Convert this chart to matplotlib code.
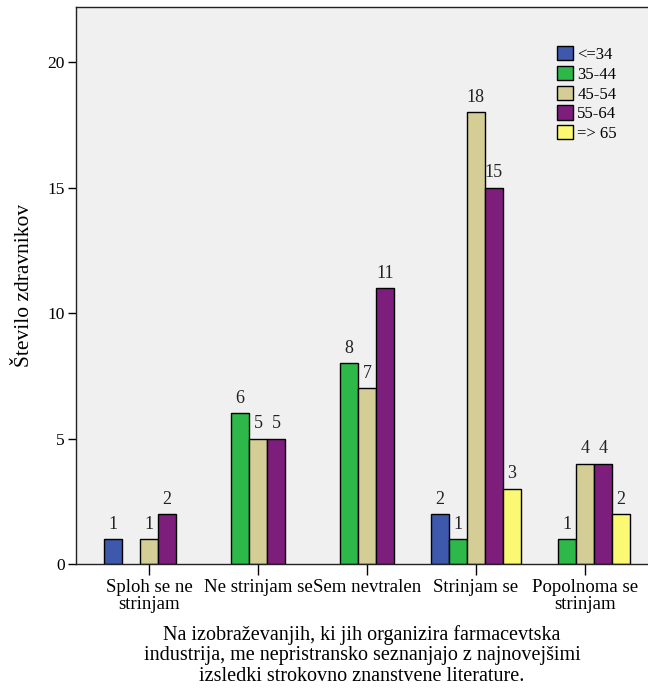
import numpy as np
import matplotlib.pyplot as plt
from matplotlib.patches import Patch

# kategorije odgovorov in starostne skupine
categories = ["Sploh se ne\nstrinjam", "Ne strinjam se", "Sem nevtralen",
              "Strinjam se", "Popolnoma se\nstrinjam"]
age_groups = ["<=34", "35-44", "45-54", "55-64", "=> 65"]

# število zdravnikov po skupinah (0 = ni stolpca)
counts_34 = [1, 0, 0, 2, 0]
counts_44 = [0, 6, 8, 1, 1]
counts_54 = [1, 5, 7, 18, 4]
counts_64 = [2, 5, 11, 15, 4]
counts_65 = [0, 0, 0, 3, 2]

colors = ["#3E58AC", "#2EB84A", "#D4CE96", "#7E1E7C", "#FBF873"]

plt.rcParams["font.family"] = ["Liberation Serif", "DejaVu Serif"]

fig = plt.figure(figsize=(6.48, 6.89), dpi=100)
ax = fig.add_axes([0.1173, 0.1814, 0.8827, 0.8084])
ax.set_facecolor("#F0F0F0")

series = [counts_34, counts_44, counts_54, counts_64, counts_65]
x = np.arange(len(categories))
width = 0.165

for i, (vals, col) in enumerate(zip(series, colors)):
    offs = (i - 2) * width
    for xi, v in zip(x, vals):
        if v == 0:
            continue
        ax.bar(xi + offs, v, width, color=col, edgecolor="black", linewidth=1.0)
        ax.text(xi + offs, v + 0.25, str(v), ha="center", va="bottom",
                fontsize=13, color="#222222")

ax.set_xlim(-0.67, 4.58)
ax.set_ylim(0, 22.2)
ax.set_yticks([0, 5, 10, 15, 20])
ax.set_xticks(x)
ax.set_xticklabels(categories, fontsize=13.5, linespacing=0.95)
ax.tick_params(axis="y", labelsize=12.5, length=6, width=1.0, pad=2)
ax.tick_params(axis="x", length=8, width=1.0, pad=3)

for s in ["left", "bottom", "top"]:
    ax.spines[s].set_linewidth(1.0)
    ax.spines[s].set_color("#222222")
ax.spines["right"].set_visible(False)

ax.set_ylabel("Število zdravnikov", fontsize=15.5, labelpad=10)
ax.set_xlabel("Na izobraževanjih, ki jih organizira farmacevtska\n"
              "industrija, me nepristransko seznanjajo z najnovejšimi\n"
              "izsledki strokovno znanstvene literature.",
              fontsize=14.5, linespacing=1.1, labelpad=9)

handles = [Patch(facecolor=c, edgecolor="black", linewidth=1.0) for c in colors]
ax.legend(handles, age_groups, loc="upper left",
          bbox_to_anchor=(0.842, 0.95), bbox_transform=fig.transFigure,
          frameon=False, fontsize=12, handlelength=0.95, handleheight=0.95,
          handletextpad=0.25, labelspacing=0.17, borderpad=0.2)

fig.savefig("out.png", dpi=100)
